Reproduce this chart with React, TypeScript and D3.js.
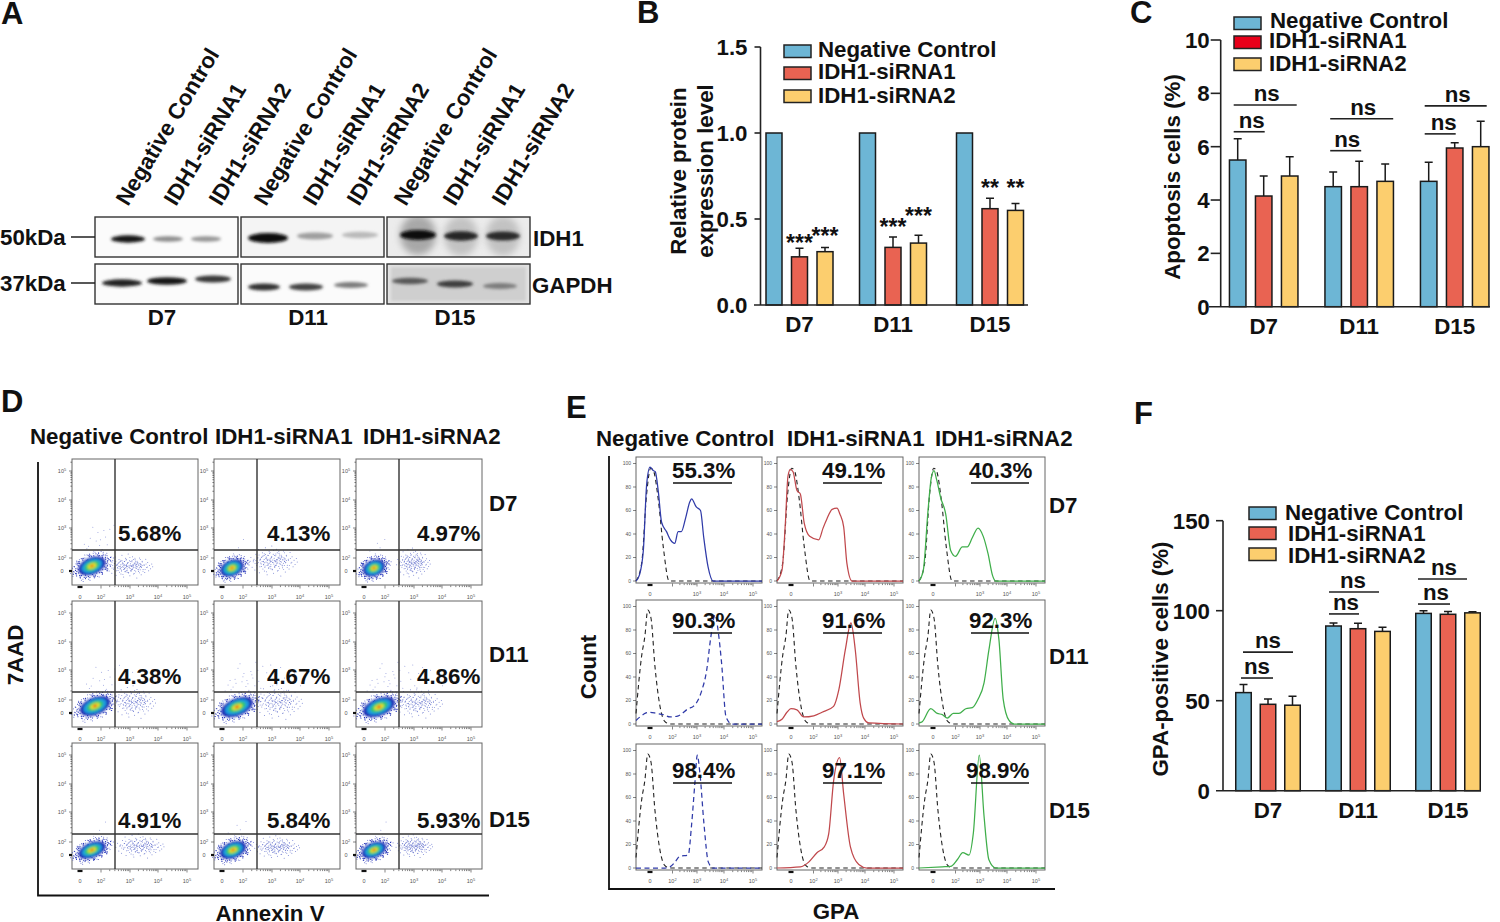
import * as d3 from 'd3';

const FONT = '"Liberation Sans", Arial, sans-serif';

const days = ['D7', 'D11', 'D15'];
const legendNames = ['Negative Control', 'IDH1-siRNA1', 'IDH1-siRNA2'];
const barColors = ['#6db6d5', '#e96352', '#fcce6e'];

// panel A
const blotLabels = ['Negative Control', 'IDH1-siRNA1', 'IDH1-siRNA2'];
const idh1Darkness = [[0.95, 0.42, 0.38], [1, 0.34, 0.22], [1, 0.88, 0.85]];
const gapdhDarkness = [[0.9, 0.95, 0.8], [0.82, 0.75, 0.5], [0.65, 0.78, 0.5]];

// panel B
const bValues = [[1, 1, 1], [0.28, 0.335, 0.56], [0.31, 0.36, 0.55]];
const bErrors = [[0, 0, 0], [0.05, 0.06, 0.06], [0.025, 0.045, 0.04]];
const bTicks = [0, 0.5, 1, 1.5];
const bStars = [
  { group: 0, series: 1, level: 0.315, text: '***' },
  { group: 0, series: 2, level: 0.355, text: '***' },
  { group: 1, series: 1, level: 0.407, text: '***' },
  { group: 1, series: 2, level: 0.47, text: '***' },
  { group: 2, series: 1, level: 0.634, text: '**' },
  { group: 2, series: 2, level: 0.634, text: '**' },
];

// panel C
const cValues = [[5.5, 4.5, 4.7], [4.15, 4.5, 5.95], [4.9, 4.7, 6.0]];
const cErrors = [[0.8, 0.55, 0.72], [0.75, 0.95, 0.2], [0.72, 0.65, 0.95]];
const cTicks = [0, 2, 4, 6, 8, 10];
const cBrackets = [
  { group: 0, level: 6.56, from: -30, to: 1, label: -12 },
  { group: 0, level: 7.56, from: -30, to: 33, label: 3 },
  { group: 1, level: 5.85, from: -29, to: 2, label: -12 },
  { group: 1, level: 7.05, from: -29, to: 34, label: 4 },
  { group: 2, level: 6.48, from: -30, to: 1, label: -11 },
  { group: 2, level: 7.53, from: -30, to: 32, label: 3 },
];

// panel F
const fValues = [[54.5, 91.5, 98.5], [48, 90, 98], [47.5, 88.5, 98.8]];
const fErrors = [[4.5, 1.7, 1.5], [3, 3, 1.5], [5, 2.3, 0.6]];
const fTicks = [0, 50, 100, 150];
const fBrackets = [
  { group: 0, level: 62.6, from: -27, to: 5, label: -11 },
  { group: 0, level: 77, from: -25, to: 25, label: 0 },
  { group: 1, level: 98.2, from: -29, to: 1, label: -12 },
  { group: 1, level: 110.4, from: -29, to: 21, label: -5 },
  { group: 2, level: 103.7, from: -30, to: 2, label: -12 },
  { group: 2, level: 117.6, from: -30, to: 19, label: -4 },
];

// panel D, one entry per plot, row by row
const dPercents = ['5.68%', '4.13%', '4.97%', '4.38%', '4.67%', '4.86%', '4.91%', '5.84%', '5.93%'];
const coreX = [1.14, 0.95, 0.95, 1.43, 1.43, 1.43, 1.14, 1.05, 0.95];
const coreY = [0.77, 0.46, 0.46, 1.08, 0.92, 0.92, 0.77, 0.77, 0.77];
const coreSpreadX = [0.65, 0.55, 0.52, 0.72, 0.76, 0.76, 0.65, 0.62, 0.58];
const coreSpreadY = [2.1, 2.0, 2.0, 2.15, 2.15, 2.15, 1.85, 2.0, 1.85];
const tailX = [2.97, 3.03, 2.97, 3.14, 3.21, 3.14, 3.34, 3.17, 3.0];
const tailY = [0.77, 1.54, 1.23, 1.69, 1.69, 1.54, 1.38, 1.23, 1.38];
const tailSpreadX = [0.83, 0.86, 0.6, 0.76, 0.86, 0.86, 0.86, 0.8, 0.65];
const tailSpreadY = [2.0, 2.5, 2.5, 2.7, 2.9, 2.5, 2.0, 1.9, 1.9];
const upperCount = [16, 3, 5, 18, 42, 42, 3, 5, 3];

// stipple offsets for the sparse dots
const haloDots = [
  [-0.92, 0.12], [-0.85, -0.3], [-0.78, 0.42], [-0.7, -0.55], [-0.66, 0.1], [-0.61, 0.66], [-0.52, -0.74], [-0.47, 0.31],
  [-0.41, -0.2], [-0.33, 0.86], [-0.28, -0.9], [-0.2, 0.55], [-0.14, -0.6], [-0.06, 0.95], [0.02, -0.97], [0.09, 0.72],
  [0.17, -0.8], [0.24, 0.47], [0.31, -0.46], [0.38, 0.88], [0.44, -0.84], [0.5, 0.22], [0.57, -0.6], [0.63, 0.7],
  [0.69, -0.28], [0.74, 0.5], [0.8, -0.5], [0.85, 0.18], [0.91, -0.14], [0.97, 0.05], [-1.0, -0.1], [-0.95, 0.3],
  [-0.88, -0.5], [-0.8, 0.58], [-0.74, -0.68], [-0.57, 0.8], [-0.38, -0.93], [-0.12, 1.02], [0.12, -1.02], [0.34, 1.0],
  [0.58, -0.82], [0.72, 0.74], [0.9, -0.42], [1.02, 0.2], [1.08, -0.08], [-1.08, 0.05], [0.66, 0.88], [-0.66, -0.8],
];
const tailDots = [
  [-0.95, 0.1], [-0.88, -0.22], [-0.83, 0.38], [-0.78, -0.05], [-0.72, 0.55], [-0.68, -0.42], [-0.63, 0.16], [-0.58, -0.7],
  [-0.54, 0.72], [-0.5, -0.12], [-0.46, 0.34], [-0.42, -0.5], [-0.38, 0.05], [-0.34, 0.62], [-0.3, -0.82], [-0.27, -0.25],
  [-0.23, 0.85], [-0.19, 0.24], [-0.15, -0.6], [-0.11, -0.04], [-0.08, 0.48], [-0.04, -0.92], [0.0, 0.1], [0.03, 0.75],
  [0.07, -0.34], [0.1, 0.3], [0.14, -0.72], [0.18, -0.08], [0.21, 0.58], [0.25, -0.48], [0.28, 0.14], [0.32, 0.92],
  [0.36, -0.22], [0.39, 0.42], [0.43, -0.62], [0.47, 0.02], [0.5, 0.68], [0.54, -0.36], [0.58, 0.26], [0.62, -0.1],
  [0.65, 0.5], [0.69, -0.52], [0.73, 0.12], [0.77, -0.26], [0.81, 0.36], [0.85, -0.04], [0.89, 0.22], [0.94, -0.15],
  [0.98, 0.06], [-0.6, -0.2], [-0.35, -0.34], [-0.12, 0.36], [0.12, 0.02], [0.3, -0.1], [0.46, 0.28], [-0.2, -0.1],
];
const upperDots = [
  [0.1, 1.2], [0.45, 2.1], [0.8, 3.4], [-0.3, 1.6], [0.25, 2.8], [1.05, 4.6], [-0.1, 3.2], [0.6, 1.5],
  [0.35, 4.1], [-0.45, 2.3], [0.9, 2.2], [1.3, 5.2], [0.05, 4.9], [0.7, 4.4], [-0.2, 2.0], [0.5, 3.0],
  [1.6, 3.2], [2.0, 4.1], [2.4, 3.4], [1.8, 2.2], [2.7, 2.6], [2.2, 5.0], [3.0, 3.0], [1.5, 4.2],
  [2.6, 4.6], [3.2, 2.2], [-0.6, 1.4], [0.15, 5.6], [0.95, 5.8], [0.4, 1.1], [1.2, 1.8], [-0.05, 2.6],
  [0.55, 2.5], [0.85, 1.3], [-0.35, 3.0], [1.9, 1.6], [2.5, 1.5], [2.9, 4.0], [1.7, 5.4], [0.3, 3.6],
  [0.75, 3.9], [1.1, 2.9],
];
const densityColors = ['#1c2bb5', '#1c9be0', '#35c86a', '#e4e02a', '#e8431e'];
const densityLevels = [0.76, 0.58, 0.41, 0.24, 0.1];

// panel E
const ePercents = ['55.3%', '49.1%', '40.3%', '90.3%', '91.6%', '92.3%', '98.4%', '97.1%', '98.9%'];
const isotypeD7 = [[-1.24, 0], [-0.74, 15], [-0.3, 74], [0.06, 96], [0.3, 94], [0.74, 69], [1.18, 29], [1.7, 0], [5.3, 0]];
const isotypeLater = [[-1.24, 9], [-0.74, 58], [-0.45, 75], [-0.2, 97], [0.09, 90], [0.44, 49], [0.89, 15], [1.33, 2], [1.78, 0], [5.3, 0]];
const blueD7 = [[-1.24, 0], [-0.94, 5], [-0.59, 26], [-0.29, 83], [0, 97], [0.29, 94], [0.47, 93], [0.74, 76], [1.03, 50], [1.47, 42], [1.82, 35], [2.09, 32], [2.23, 42], [2.36, 42], [2.54, 54], [2.7, 67], [2.78, 70], [2.97, 63], [3.13, 60], [3.25, 37], [3.41, 12], [3.6, 0], [5.3, 0]];
const redD7 = [[-1.24, 0], [-0.8, 9], [-0.5, 49], [-0.27, 89], [-0.06, 95], [0.18, 93], [0.53, 77], [0.83, 74], [1.18, 49], [1.66, 38], [2.21, 35], [2.39, 45], [2.55, 53], [2.76, 61], [2.96, 62], [3.07, 57], [3.21, 46], [3.33, 15], [3.52, 0], [5.3, 0]];
const greenD7 = [[-1.24, 0], [-0.86, 9], [-0.44, 60], [-0.15, 88], [0.09, 94], [0.33, 86], [0.68, 71], [1.13, 57], [1.57, 26], [2.0, 21], [2.28, 29], [2.48, 29], [2.69, 37], [2.92, 45], [3.12, 38], [3.3, 23], [3.46, 5], [3.58, 0], [5.3, 0]];
const blueD11 = [[-1.24, 3], [-0.89, 6], [-0.44, 9], [0, 10], [0.6, 9], [1.18, 8], [1.78, 6], [2.24, 7], [2.64, 13], [2.85, 15], [3.17, 28], [3.36, 46], [3.5, 72], [3.67, 93], [3.79, 78], [3.91, 52], [4.07, 6], [4.27, 0], [5.3, 0]];
const redD11 = [[-1.24, 2], [-0.8, 4], [-0.36, 10], [0, 13], [0.53, 12], [1.13, 6], [2.01, 7], [2.35, 10], [2.82, 15], [3.03, 29], [3.27, 63], [3.48, 86], [3.64, 63], [3.82, 18], [3.95, 5], [4.13, 1], [5.3, 0]];
const greenD11 = [[-1.24, 1], [-0.95, 2], [-0.2, 13], [0.38, 9], [0.83, 8], [1.27, 5], [1.8, 9], [2.14, 9], [2.42, 13], [2.69, 14], [2.92, 21], [3.15, 35], [3.33, 63], [3.56, 90], [3.7, 72], [3.86, 21], [4.07, 3], [4.24, 0], [5.3, 0]];
const blueD15 = [[-1.24, 0], [1.33, 0], [1.78, 1], [2.1, 5], [2.3, 10], [2.64, 11], [2.78, 37], [2.92, 74], [3.01, 96], [3.11, 80], [3.26, 37], [3.42, 5], [3.6, 0], [5.3, 0]];
const redD15 = [[-1.24, 0], [0.83, 1], [1.57, 5], [2.14, 13], [2.44, 18], [2.62, 29], [2.82, 74], [3.06, 94], [3.21, 63], [3.46, 18], [3.77, 3], [4.07, 0], [5.3, 0]];
const greenD15 = [[-1.24, 0], [0.83, 1], [1.57, 1.4], [2.07, 7], [2.3, 13], [2.55, 11], [2.73, 30], [2.97, 96], [3.15, 44], [3.33, 7], [3.58, 0], [5.3, 0]];
const histCurves = [blueD7, redD7, greenD7, blueD11, redD11, greenD11, blueD15, redD15, greenD15];
const histColors = ['#2f3aa8', '#c0484c', '#3fae4a'];
const histTicks = [0, 20, 40, 60, 80, 100];
const decades = [2, 3, 4, 5];
const minorSteps = [2, 3, 4, 5, 6, 7, 8, 9];

const PANEL_W = 126;
const PANEL_H = 126;

const dotX = d3.scaleLinear().domain([-0.76, 0, 2, 3, 4, 5, 5.38]).range([0, 8, 29, 58, 86, 115, 126]);
const dotY = d3.scaleLinear().domain([-2.3, 0, 2, 3, 4, 5, 5.41]).range([127, 112, 99, 69, 41, 12, 0]);
const histX = d3.scaleLinear().domain([-1.24, 0, 2, 3, 4, 5, 5.3]).range([0, 14, 36.5, 61, 88, 117, 126]);
const histY = d3.scaleLinear().domain([0, 100]).range([124, 6.5]);

function Txt({ x, y, size = 22.3, anchor = 'start', children, rotate, weight = 'bold', fill = '#111' }: any) {
  return (
    <text
      x={rotate === undefined ? x : 0}
      y={rotate === undefined ? y : 0}
      transform={rotate === undefined ? undefined : `translate(${x},${y}) rotate(${rotate})`}
      fontFamily={FONT}
      fontSize={size}
      fontWeight={weight}
      textAnchor={anchor}
      fill={fill}
    >
      {children}
    </text>
  );
}

function Legend({ swatchX, textX, rows, swatchColors }: any) {
  return (
    <g>
      {legendNames.map((name, i) => (
        <g key={name}>
          <rect x={swatchX} y={rows[i].y} width={27} height={12.5} fill={swatchColors[i]} stroke="#222" strokeWidth={1.5} />
          <Txt x={textX[i]} y={rows[i].text}>{name}</Txt>
        </g>
      ))}
    </g>
  );
}

function BarChart({ values, errors, ticks, domain, top, bottom, axisX, lineFrom, lineTo, centers, barW, step, format, brackets, stars, tickLen = 7, labelGap = 13 }: any) {
  const y = d3.scaleLinear().domain(domain).range([bottom, top]);
  const group = d3.scaleOrdinal<number, number>().domain([0, 1, 2]).range(centers);
  const gap = 1 - barW / step;
  const inner = d3.scaleBand<number>().domain([0, 1, 2]).range([-step * 1.5, step * 1.5]).paddingInner(gap).paddingOuter(gap / 2);
  return (
    <g>
      {values.map((series: number[], s: number) =>
        series.map((v, g) => {
          const x = group(g) + (inner(s) as number);
          const mid = x + inner.bandwidth() / 2;
          const err = errors[s][g];
          return (
            <g key={`${s}-${g}`}>
              {err > 0 && (
                <path d={`M${mid},${y(v)}V${y(v + err)}M${mid - 4},${y(v + err)}H${mid + 4}`} stroke="#1a1a1a" strokeWidth={1.5} fill="none" />
              )}
              <rect x={x} y={y(v)} width={inner.bandwidth()} height={bottom - y(v)} fill={barColors[s]} stroke="#1a1a1a" strokeWidth={1.5} />
            </g>
          );
        }),
      )}
      <path d={`M${axisX},${top}V${bottom}`} stroke="#222" strokeWidth={1.6} />
      <path d={`M${lineFrom},${bottom}H${lineTo}`} stroke="#222" strokeWidth={1.6} />
      {ticks.map((t: number) => (
        <g key={t}>
          {t !== domain[0] && <path d={`M${axisX - tickLen},${y(t)}H${axisX}`} stroke="#222" strokeWidth={1.6} />}
          <Txt x={axisX - labelGap} y={y(t) + 8} anchor="end">{format(t)}</Txt>
        </g>
      ))}
      {days.map((d, i) => (
        <Txt key={d} x={group(i)} y={bottom + 27} anchor="middle">{d}</Txt>
      ))}
      {(brackets || []).map((b: any, i: number) => (
        <g key={i}>
          <path d={`M${group(b.group) + b.from},${y(b.level)}H${group(b.group) + b.to}`} stroke="#222" strokeWidth={1.6} />
          <Txt x={group(b.group) + b.label} y={y(b.level) - 4} anchor="middle" weight="bold">ns</Txt>
        </g>
      ))}
      {(stars || []).map((st: any, i: number) => (
        <Txt
          key={i}
          x={group(st.group) + (inner(st.series) as number) + inner.bandwidth() / 2}
          y={y(st.level)}
          anchor="middle"
          size={23}
          weight="bold"
        >
          {st.text}
        </Txt>
      ))}
    </g>
  );
}

function FlowAxes({ x }: any) {
  const all = decades.flatMap(d => minorSteps.map(m => d + Math.log10(m)));
  return (
    <g stroke="#333" strokeWidth={0.6} fill="none">
      {decades.map(d => <path key={d} d={`M${x(d)},${PANEL_H + 0.5}v3`} />)}
      {all.filter(d => d < 5.3).map(d => <path key={d} d={`M${x(d)},${PANEL_H + 0.5}v1.6`} />)}
      <path d={`M${x(0) - 2.5},${PANEL_H + 2}h5`} strokeWidth={2.2} stroke="#111" />
    </g>
  );
}

function PowerLabel({ x, y, exp }: any) {
  return (
    <text x={x} y={y} fontFamily={FONT} fontSize={5.5} fill="#555" textAnchor="middle">
      10<tspan dy={-2} fontSize={4}>{exp}</tspan>
    </text>
  );
}

function DotPlot({ index, left, top, textX, textY }: any) {
  const cx = dotX(coreX[index]);
  const cy = dotY(coreY[index]);
  const xUnit = dotX(3) - dotX(2);
  const yUnit = dotY(0) - dotY(1);
  const rx = coreSpreadX[index] * xUnit;
  const ry = coreSpreadY[index] * yUnit;
  const tx = dotX(tailX[index]);
  const ty = dotY(tailY[index]);
  const sx = tailSpreadX[index] * xUnit;
  const sy = tailSpreadY[index] * yUnit;
  return (
    <g transform={`translate(${left},${top})`}>
      <rect width={PANEL_W} height={PANEL_H} fill="#fff" stroke="#666" strokeWidth={1} />
      <g fill="#3a4bc0">
        {tailDots.map(([a, b], i) => <circle key={i} cx={tx + a * sx} cy={ty + b * sy} r={0.5} opacity={0.7} />)}
        {tailDots.map(([a, b], i) => <circle key={i} cx={tx - a * sx * 0.8} cy={ty + b * sy * 0.72} r={0.5} opacity={0.6} />)}
        {tailDots.map(([a, b], i) => <circle key={i} cx={tx + a * sx * 0.55} cy={ty - b * sy * 0.55} r={0.5} opacity={0.7} />)}
        {upperDots.slice(0, upperCount[index]).map(([a, b], i) => (
          <circle key={i} cx={cx + a * rx * 0.9} cy={cy - ry * 0.5 - b * yUnit} r={0.5} opacity={0.55} />
        ))}
      </g>
      <g transform={`rotate(-22,${cx},${cy})`}>
        <g fill="#1c2bb5">
          {haloDots.map(([a, b], i) => <circle key={i} cx={cx + a * rx} cy={cy + b * ry * 0.85} r={0.55} />)}
          {haloDots.map(([a, b], i) => <circle key={i} cx={cx - a * rx * 1.12} cy={cy + b * ry * 0.92} r={0.5} opacity={0.7} />)}
          {haloDots.map(([a, b], i) => <circle key={i} cx={cx - a * rx * 0.88} cy={cy - b * ry * 0.74} r={0.6} />)}
        </g>
        <g filter="url(#core-blur)">
          {densityLevels.map((lev, i) => (
            <ellipse key={i} cx={cx} cy={cy} rx={rx * lev} ry={ry * lev * 0.82} fill={densityColors[i]} />
          ))}
        </g>
      </g>
      <path d={`M43,0V${PANEL_H}M0,91H${PANEL_W}`} stroke="#333" strokeWidth={1.4} />
      <FlowAxes x={dotX} />
      <g stroke="#333" strokeWidth={0.6}>
        {decades.map(d => <path key={d} d={`M-3,${dotY(d)}H0`} />)}
        {decades.flatMap(d => minorSteps.map(m => d + Math.log10(m))).filter(d => d < 5.4).map(d => (
          <path key={d} d={`M-1.6,${dotY(d)}H0`} />
        ))}
        <path d={`M-3,${dotY(0)}h3`} strokeWidth={2.2} stroke="#111" />
      </g>
      <text x={dotX(0)} y={PANEL_H + 14} fontFamily={FONT} fontSize={5.5} fill="#555" textAnchor="middle">0</text>
      {decades.map(d => <PowerLabel key={d} x={dotX(d)} y={PANEL_H + 14} exp={d} />)}
      <text x={-10} y={dotY(0) + 2} fontFamily={FONT} fontSize={5.5} fill="#555" textAnchor="middle">0</text>
      {decades.map(d => <PowerLabel key={d} x={-10} y={dotY(d) + 2} exp={d} />)}
      <Txt x={textX} y={textY}>{dPercents[index]}</Txt>
    </g>
  );
}

function Histogram({ index, left, top, textX, textY, barFrom, barTo, barY }: any) {
  const row = Math.floor(index / 3);
  const line = d3.line<number[]>().x(d => histX(d[0])).y(d => histY(d[1])).curve(d3.curveMonotoneX);
  const isotype = row === 0 ? isotypeD7 : isotypeLater;
  const color = histColors[index % 3];
  const dashedSample = index === 3 || index === 6;
  return (
    <g transform={`translate(${left},${top})`}>
      <rect width={PANEL_W} height={PANEL_H} fill="#fff" stroke="#666" strokeWidth={1} />
      <path d={line(isotype) as string} fill="none" stroke="#222" strokeWidth={1.1} strokeDasharray="4.5 3.5" />
      <path d={line(histCurves[index]) as string} fill="none" stroke={color} strokeWidth={1.25} strokeDasharray={dashedSample ? '5 3.5' : undefined} />
      <FlowAxes x={histX} />
      <g stroke="#333" strokeWidth={0.6}>
        {histTicks.map(t => <path key={t} d={`M-3,${histY(t)}H0`} />)}
      </g>
      {histTicks.map(t => (
        <text key={t} x={-5} y={histY(t) + 1.8} fontFamily={FONT} fontSize={5} fill="#555" textAnchor="end">{t}</text>
      ))}
      <text x={histX(0)} y={PANEL_H + 13} fontFamily={FONT} fontSize={5.5} fill="#555" textAnchor="middle">0</text>
      {decades.filter(d => row > 0 || d > 2).map(d => <PowerLabel key={d} x={histX(d)} y={PANEL_H + 13} exp={d} />)}
      <Txt x={textX} y={textY}>{ePercents[index]}</Txt>
      <path d={`M${barFrom},${barY}H${barTo}`} stroke="#111" strokeWidth={1.6} />
    </g>
  );
}

function Blot({ left, right, top, bottom, background, bands, laneX, bandY, bandRy, clipId, edge, smear }: any) {
  const w = right - left;
  const h = bottom - top;
  return (
    <g>
      <clipPath id={clipId}><rect x={left} y={top} width={w} height={h} /></clipPath>
      <g clipPath={`url(#${clipId})`}>
        <rect x={left} y={top} width={w} height={h} fill={edge || background} />
        {edge && <rect x={left + 4} y={top + 3} width={w - 8} height={h - 6} fill={background} filter="url(#blot-blur)" />}
        {smear && bands.map((dark: number, i: number) => (
          <ellipse key={i} cx={laneX[i].x} cy={bandY[i]} rx={laneX[i].r} ry={smear} fill={i === 0 ? '#a8a8a8' : '#c2c2c2'} filter="url(#smear-blur)" />
        ))}
        {bands.map((dark: number, i: number) => (
          <ellipse
            key={i}
            cx={laneX[i].x}
            cy={bandY[i]}
            rx={laneX[i].r}
            ry={bandRy * (0.6 + dark * 0.5)}
            fill={`rgb(${Math.round(235 - 225 * dark)},${Math.round(235 - 225 * dark)},${Math.round(235 - 225 * dark)})`}
            filter="url(#blot-blur)"
          />
        ))}
      </g>
      <rect x={left} y={top} width={w} height={h} fill="none" stroke="#333" strokeWidth={1.4} />
    </g>
  );
}

function PanelA() {
  const columns = [
    { left: 95, right: 238, upper: [{ x: 128, r: 17 }, { x: 168, r: 15 }, { x: 206, r: 15 }], lower: [{ x: 122, r: 20 }, { x: 167, r: 20 }, { x: 213, r: 18 }], upY: [239, 239, 239], lowY: [283, 281, 279] },
    { left: 241, right: 384, upper: [{ x: 268, r: 20 }, { x: 315, r: 18 }, { x: 360, r: 18 }], lower: [{ x: 264, r: 16 }, { x: 306, r: 17 }, { x: 351, r: 17 }], upY: [238, 236, 235], lowY: [287, 287, 285] },
    { left: 387, right: 530, upper: [{ x: 418, r: 18 }, { x: 461, r: 17 }, { x: 503, r: 17 }], lower: [{ x: 410, r: 18 }, { x: 455, r: 18 }, { x: 500, r: 17 }], upY: [235, 236, 236], lowY: [281, 284, 286] },
  ];
  const labelX = [120, 168, 213, 258, 307, 351, 398, 447, 496];
  return (
    <g>
      {labelX.map((x, i) => (
        <Txt key={i} x={x + 8} y={207} rotate={-59}>{blotLabels[i % 3]}</Txt>
      ))}
      {columns.map((c, i) => (
        <g key={i}>
          <Blot
            left={c.left} right={c.right} top={217} bottom={257}
            background={i === 2 ? '#ececec' : i === 1 ? '#f4f4f4' : '#fbfbfb'}
            bands={idh1Darkness[i]} laneX={c.upper} bandY={c.upY} bandRy={i === 2 ? 4.5 : i === 1 ? 4.5 : 3.4}
            clipId={`idh1-${i}`}
            smear={i === 2 ? 20 : undefined}
          />
          <Blot
            left={c.left} right={c.right} top={264} bottom={304}
            background={i === 2 ? '#cfcfcf' : '#fbfbfb'}
            edge={i === 2 ? '#e2e2e2' : undefined}
            bands={gapdhDarkness[i]} laneX={c.lower} bandY={c.lowY} bandRy={3.5}
            clipId={`gapdh-${i}`}
          />
        </g>
      ))}
      <Txt x={0} y={245}>50kDa</Txt>
      <Txt x={0} y={291}>37kDa</Txt>
      <path d="M71,237H95M71,283H95" stroke="#222" strokeWidth={1.4} />
      <Txt x={533} y={246}>IDH1</Txt>
      <Txt x={532} y={293}>GAPDH</Txt>
      <Txt x={162} y={325} anchor="middle">D7</Txt>
      <Txt x={308} y={325} anchor="middle">D11</Txt>
      <Txt x={455} y={325} anchor="middle">D15</Txt>
    </g>
  );
}

function PanelD() {
  const cols = [72, 214, 356];
  const rows = [459, 601, 743];
  const textX = [46, 53, 61];
  const textY = [82, 83, 85];
  return (
    <g>
      {rows.map((t, r) =>
        cols.map((l, c) => (
          <DotPlot key={`${r}${c}`} index={r * 3 + c} left={l} top={t} textX={textX[c]} textY={textY[r]} />
        )),
      )}
      <path d="M38,462V895.5H489" fill="none" stroke="#111" strokeWidth={1.8} />
      <Txt x={30} y={444}>{legendNames[0]}</Txt>
      <Txt x={215} y={444}>{legendNames[1]}</Txt>
      <Txt x={363} y={444}>{legendNames[2]}</Txt>
      <Txt x={489} y={511}>D7</Txt>
      <Txt x={489} y={662}>D11</Txt>
      <Txt x={489} y={827}>D15</Txt>
      <Txt x={270} y={921} anchor="middle">Annexin V</Txt>
      <Txt x={23} y={655} anchor="middle" rotate={-90}>7AAD</Txt>
    </g>
  );
}

function PanelE() {
  const cols = [636, 777, 919];
  const rows = [457, 600, 744];
  const textX = [36, 45, 50];
  const textY = [21, 28, 34];
  const barFrom = [37, 46, 52];
  const barTo = [96, 105, 110];
  const barY = [26, 33, 39];
  return (
    <g>
      {rows.map((t, r) =>
        cols.map((l, c) => (
          <Histogram
            key={`${r}${c}`}
            index={r * 3 + c}
            left={l}
            top={t}
            textX={r === 2 && c === 2 ? 47 : textX[c]}
            textY={textY[r]}
            barFrom={barFrom[c]}
            barTo={barTo[c]}
            barY={barY[r]}
          />
        )),
      )}
      <path d="M609,456V889H1055" fill="none" stroke="#111" strokeWidth={1.8} />
      <Txt x={596} y={446}>{legendNames[0]}</Txt>
      <Txt x={787} y={446}>{legendNames[1]}</Txt>
      <Txt x={935} y={446}>{legendNames[2]}</Txt>
      <Txt x={1049} y={513}>D7</Txt>
      <Txt x={1049} y={664}>D11</Txt>
      <Txt x={1049} y={818}>D15</Txt>
      <Txt x={836} y={919} anchor="middle">GPA</Txt>
      <Txt x={596} y={667} anchor="middle" rotate={-90}>Count</Txt>
    </g>
  );
}

export default function App() {
  return (
    <svg width={1500} height={922} style={{ position: 'absolute', left: 0, top: 0, background: '#fff' }}>
      <defs>
        <filter id="blot-blur" x="-30%" y="-100%" width="160%" height="300%"><feGaussianBlur stdDeviation="1.7" /></filter>
        <filter id="smear-blur" x="-30%" y="-30%" width="160%" height="160%"><feGaussianBlur stdDeviation="3.5" /></filter>
        <filter id="core-blur" x="-20%" y="-20%" width="140%" height="140%"><feGaussianBlur stdDeviation="0.9" /></filter>
      </defs>

      <Txt x={1} y={24} size={31}>A</Txt>
      <Txt x={637} y={23} size={31}>B</Txt>
      <Txt x={1130} y={23} size={31}>C</Txt>
      <Txt x={1} y={412} size={31}>D</Txt>
      <Txt x={566} y={418} size={31}>E</Txt>
      <Txt x={1134} y={424} size={31}>F</Txt>

      <PanelA />

      <BarChart
        values={bValues} errors={bErrors} ticks={bTicks} domain={[0, 1.5]}
        top={47} bottom={305} axisX={760.5} lineFrom={754} lineTo={1028}
        centers={[799.5, 893, 990]} barW={16} step={25.5} tickLen={6}
        format={(t: number) => d3.format('.1f')(t)} stars={bStars}
      />
      <Legend swatchX={784} textX={[818, 818, 818]} swatchColors={barColors}
        rows={[{ y: 45, text: 57 }, { y: 67, text: 79 }, { y: 90, text: 103 }]} />
      <Txt x={686} y={171} anchor="middle" rotate={-90}>Relative protein</Txt>
      <Txt x={713} y={171} anchor="middle" rotate={-90}>expression level</Txt>

      <BarChart
        values={cValues} errors={cErrors} ticks={cTicks} domain={[0, 10]}
        top={40} bottom={306.7} axisX={1220.7} lineFrom={1209} lineTo={1490}
        centers={[1263.7, 1359.2, 1454.7]} barW={16.5} step={26} tickLen={10} labelGap={11}
        format={(t: number) => String(t)} brackets={cBrackets}
      />
      <Legend swatchX={1234} textX={[1270, 1269, 1269]} swatchColors={['#6db6d5', '#e8001a', '#fcce6e']}
        rows={[{ y: 17, text: 28 }, { y: 36, text: 48 }, { y: 58, text: 71 }]} />
      <Txt x={1180} y={177} anchor="middle" rotate={-90}>Apoptosis cells (%)</Txt>

      <PanelD />
      <PanelE />

      <BarChart
        values={fValues} errors={fErrors} ticks={fTicks} domain={[0, 150]}
        top={520.7} bottom={790.7} axisX={1223} lineFrom={1216} lineTo={1481}
        centers={[1268, 1358, 1448]} barW={15.5} step={24.5}
        format={(t: number) => String(t)} brackets={fBrackets}
      />
      <Legend swatchX={1249} textX={[1285, 1288, 1288]} swatchColors={barColors}
        rows={[{ y: 507, text: 520 }, { y: 527, text: 541 }, { y: 548, text: 563 }]} />
      <Txt x={1168} y={659} anchor="middle" rotate={-90}>GPA-positive cells (%)</Txt>
    </svg>
  );
}
